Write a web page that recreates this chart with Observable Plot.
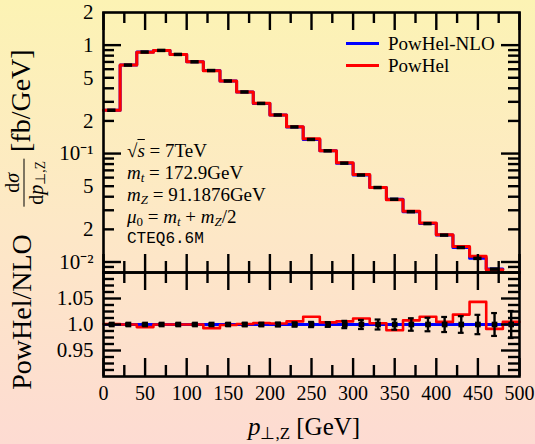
<!DOCTYPE html>
<html>
<head>
<meta charset="utf-8">
<script src="https://cdn.jsdelivr.net/npm/d3@7"></script>
<script src="https://cdn.jsdelivr.net/npm/@observablehq/plot@0.6"></script>
<style>
html, body { margin: 0; padding: 0; }
body {
  width: 535px; height: 444px; overflow: hidden; position: relative;
  background: linear-gradient(to bottom, #fcf3b4 0%, #fde8c6 50%, #fddbd2 100%);
  font-family: "Liberation Serif", serif; color: #000;
}
#top, #bot { position: absolute; left: 0; }
#top { top: 0; }
#bot { top: 270px; }
.abs { position: absolute; white-space: nowrap; }
sub { font-size: 0.68em; line-height: 0; vertical-align: -0.22em; }
.ann { left: 127px; top: 140px; font-size: 19px; line-height: 22px; }
.mono { font-family: "Liberation Mono", monospace; font-size: 16px; }
.leg { font-size: 19px; line-height: 22px; }
.swatch { position: absolute; height: 3px; width: 33px; }
.rot { transform: translate(-50%, -50%) rotate(-90deg); }
.frac { display: inline-block; vertical-align: middle; text-align: center; font-size: 20px; line-height: 21px; }
.frac .num { display: block; border-bottom: 1.2px solid #000; padding: 0 2px 1px 2px; }
.frac .den { display: block; padding: 1px 2px 0 2px; }
</style>
</head>
<body>
<div id="top"></div>
<div id="bot"></div>

<div class="abs ann">
  <div>√<span style="text-decoration: overline"><i>s</i></span> = 7TeV</div>
  <div><i>m</i><sub><i>t</i></sub> = 172.9GeV</div>
  <div><i>m</i><sub><i>Z</i></sub> = 91.1876GeV</div>
  <div><i>μ</i><sub>0</sub> = <i>m</i><sub><i>t</i></sub> + <i>m</i><sub><i>Z</i></sub>/2</div>
  <div class="mono">CTEQ6.6M</div>
</div>

<div class="swatch" style="left:346px; top:42px; background:#0000ff"></div>
<div class="abs leg" style="left:388px; top:33px">PowHel-NLO</div>
<div class="swatch" style="left:346px; top:64px; background:#ff0000"></div>
<div class="abs leg" style="left:388px; top:55px">PowHel</div>

<div class="abs rot" style="left:24px; top:128px; font-size:28px;">
  <span class="frac"><span class="num">d<i>σ</i></span><span class="den">d<i>p</i><sub>⊥,Z</sub></span></span>&nbsp;[fb/GeV]
</div>
<div class="abs rot" style="left:22px; top:312px; font-size:28px;">PowHel/NLO</div>
<div class="abs" style="left:304px; top:413px; font-size:25px; line-height:28px; transform: translateX(-50%);"><i>p</i><sub>⊥,Z</sub> [GeV]</div>

<script>
// ---------- data ----------
const binLo = [0, 20, 40, 60, 80, 100, 120, 140, 160, 180, 200, 220, 240, 260, 280, 300, 320, 340, 360, 380, 400, 420, 440, 460, 480];
const binWidth = 20;
// top panel: dσ/dp [fb/GeV] (bins 0-480)
const powhel = [0.251, 0.655, 0.862, 0.894, 0.821, 0.702, 0.580, 0.467, 0.370, 0.291, 0.227, 0.177, 0.137, 0.106, 0.0821, 0.0641, 0.0487, 0.0375, 0.0293, 0.0229, 0.0178, 0.0139, 0.0113, 0.0085];
const powhelNLO = [0.251, 0.655, 0.864, 0.894, 0.821, 0.702, 0.583, 0.467, 0.370, 0.290, 0.227, 0.176, 0.135, 0.106, 0.0816, 0.0634, 0.0486, 0.0379, 0.0291, 0.0226, 0.0177, 0.0136, 0.0108, 0.0086];
// bottom panel: PowHel / NLO ratio (bins 0-500)
const ratio = [1.001, 1.0, 0.995, 1.0, 1.0, 1.0, 0.993, 0.999, 1.001, 1.003, 1.002, 1.006, 1.015, 1.004, 1.006, 1.0115, 1.0025, 0.989, 1.008, 1.015, 1.005, 1.019, 1.0435, 0.9915, 1.005];
const ratioErr = [0.002, 0.002, 0.002, 0.002, 0.002, 0.002, 0.002, 0.0025, 0.003, 0.003, 0.0035, 0.004, 0.005, 0.0045, 0.007, 0.0087, 0.0096, 0.010, 0.012, 0.013, 0.0145, 0.016, 0.0186, 0.022, 0.026];

// tick labels
const xTickValues = [0, 50, 100, 150, 200, 250, 300, 350, 400, 450, 500];
const xTickLabels = ["0", "50", "100", "150", "200", "250", "300", "350", "400", "450", "500"];
const xMinorTicks = [25, 75, 125, 175, 225, 275, 325, 375, 425, 475];
const topTickValues = [2, 1, 0.5, 0.2, 0.1, 0.05, 0.02, 0.01];
const topTickLabels = ["2", "1", "5", "2", "10⁻¹", "5", "2", "10⁻²"];
const topMajorTicks = [1, 0.1, 0.01];
const ratioTickValues = [0.95, 1.0, 1.05];
const ratioTickLabels = ["0.95", "1.0", "1.05"];
const ratioMinorTicks = [0.9125, 0.925, 0.9375, 0.9625, 0.975, 0.9875, 1.0125, 1.025, 1.0375, 1.0625, 1.075, 1.0875];

// ---------- derived tables ----------
const topMinorTicks = [];
for (const dec of [0.001, 0.01, 0.1, 1]) for (let k = 2; k <= 9; k++) {
  const v = +(k * dec).toPrecision(3);
  if (v >= 0.008 && v < 2) topMinorTicks.push(v);
}
function steps(vals) {
  const pts = vals.map((v, i) => ({x: binLo[i], y: v}));
  pts.push({x: binLo[vals.length - 1] + binWidth, y: vals[vals.length - 1]});
  return pts;
}
const topRows = powhelNLO.map((v, i) => ({c: binLo[i] + binWidth / 2, v}));
const ratioRows = ratio.map((r, i) => ({c: binLo[i] + binWidth / 2, err: ratioErr[i]}));
const topLabelRows = topTickValues.map((v, i) => ({v, label: topTickLabels[i]}));

const W = 535, mL = 103, mR = 16;
const innerW = W - mL - mR;
const LONG = 18, SHORT = 11, SW = 2.4;

function yTicks(vals, len, innerWidth) {
  return [
    Plot.ruleY(vals, {y: d => d, stroke: "black", strokeWidth: SW, insetRight: innerWidth - len}),
    Plot.ruleY(vals, {y: d => d, stroke: "black", strokeWidth: SW, insetLeft: innerWidth - len})
  ];
}
function xTicksTop(vals, len, innerH) {
  return Plot.ruleX(vals, {x: d => d, stroke: "black", strokeWidth: SW, insetBottom: innerH - len});
}
function xTicksBottom(vals, len, innerH) {
  return Plot.ruleX(vals, {x: d => d, stroke: "black", strokeWidth: SW, insetTop: innerH - len});
}

const font = {background: "transparent", fontFamily: "Liberation Serif, serif", fontSize: "21px", color: "black", overflow: "visible"};

// ---------- top panel ----------
const topH = 274, topMT = 12, topMB = 2;
const topInnerH = topH - topMT - topMB;
const topPlot = Plot.plot({
  width: W, height: topH, marginLeft: mL, marginRight: mR, marginTop: topMT, marginBottom: topMB,
  style: font,
  x: {domain: [0, 500], axis: null},
  y: {type: "log", domain: [0.008, 2], axis: null},
  marks: [
    Plot.line(steps(powhelNLO), {x: "x", y: "y", curve: "step-after", stroke: "#0000ff", strokeWidth: 3}),
    Plot.line(steps(powhel), {x: "x", y: "y", curve: "step-after", stroke: "#ff0000", strokeWidth: 3}),
    Plot.ruleY(topRows, {y: "v", x1: d => d.c - 5, x2: d => d.c + 5, stroke: "black", strokeWidth: 3.5}),
    ...yTicks(topMajorTicks, LONG, innerW),
    ...yTicks(topMinorTicks, SHORT, innerW),
    xTicksTop(xTickValues, LONG, topInnerH),
    xTicksTop(xMinorTicks, SHORT, topInnerH),
    xTicksBottom(xTickValues, LONG, topInnerH),
    xTicksBottom(xMinorTicks, SHORT, topInnerH),
    Plot.frame({stroke: "black", strokeWidth: 2.6}),
    Plot.text(topLabelRows, {y: "v", text: "label", frameAnchor: "left", dx: -10, textAnchor: "end", fontSize: 21, fill: "black"})
  ]
});
document.getElementById("top").appendChild(topPlot);

// ---------- ratio panel ----------
const botH = 174, botMT = 2, botMB = 68;
const botInnerH = botH - botMT - botMB;
const ratioLabelMap = new Map(ratioTickValues.map((v, i) => [v, ratioTickLabels[i]]));
const xLabelMap = new Map(xTickValues.map((v, i) => [v, xTickLabels[i]]));
const botPlot = Plot.plot({
  width: W, height: botH, marginLeft: mL, marginRight: mR, marginTop: botMT, marginBottom: botMB,
  style: font,
  x: {domain: [0, 500]},
  y: {domain: [0.9, 1.1]},
  marks: [
    Plot.ruleY([1], {stroke: "#0000ff", strokeWidth: 3}),
    Plot.line(steps(ratio), {x: "x", y: "y", curve: "step-after", stroke: "#ff0000", strokeWidth: 2.6}),
    Plot.ruleX(ratioRows, {x: "c", y1: d => 1 - d.err, y2: d => 1 + d.err, stroke: "black", strokeWidth: 2.4}),
    Plot.ruleY(ratioRows, {y: d => 1 + d.err, x1: d => d.c - 3.5, x2: d => d.c + 3.5, stroke: "black", strokeWidth: 2.2}),
    Plot.ruleY(ratioRows, {y: d => 1 - d.err, x1: d => d.c - 3.5, x2: d => d.c + 3.5, stroke: "black", strokeWidth: 2.2}),
    Plot.dot(ratioRows, {x: "c", y: () => 1, symbol: "square", r: 3.2, fill: "black", stroke: "none"}),
    ...yTicks(ratioTickValues, LONG, innerW),
    ...yTicks(ratioMinorTicks, SHORT, innerW),
    xTicksTop(xTickValues, LONG, botInnerH),
    xTicksTop(xMinorTicks, SHORT, botInnerH),
    xTicksBottom(xTickValues, LONG, botInnerH),
    xTicksBottom(xMinorTicks, SHORT, botInnerH),
    Plot.frame({stroke: "black", strokeWidth: 2.6}),
    Plot.axisY(ratioTickValues, {tickSize: 0, tickPadding: 10, fontSize: 21, label: null, tickFormat: d => ratioLabelMap.get(d)}),
    Plot.axisX(xTickValues, {tickSize: 0, tickPadding: 9, fontSize: 20, label: null, tickFormat: d => xLabelMap.get(d)})
  ]
});
document.getElementById("bot").appendChild(botPlot);
</script>
</body>
</html>
